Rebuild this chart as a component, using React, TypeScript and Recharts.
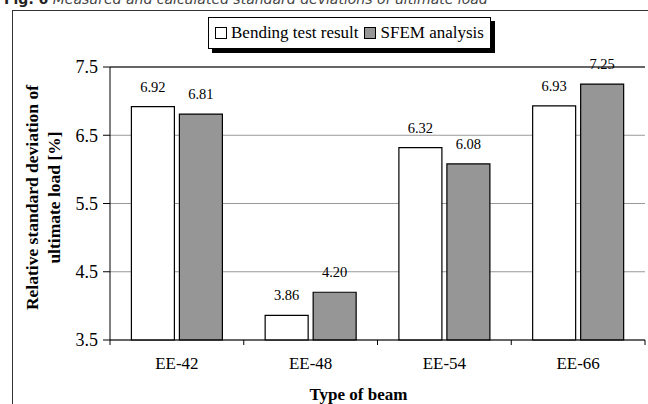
import { BarChart, Bar, XAxis, YAxis, CartesianGrid, ReferenceLine, LabelList, Label } from 'recharts';

const beams = ['EE-42', 'EE-48', 'EE-54', 'EE-66'];
const bendingTest = [6.92, 3.86, 6.32, 6.93];
const sfemAnalysis = [6.81, 4.2, 6.08, 7.25];
const yTicks = [3.5, 4.5, 5.5, 6.5, 7.5];
const seriesNames = ['Bending test result', 'SFEM analysis'];
const seriesColors = ['#ffffff', '#969696'];

const data = beams.map((name, i) => ({ name, bending: bendingTest[i], sfem: sfemAnalysis[i] }));

const serif = '"Liberation Serif", "Times New Roman", serif';
const X_TICK_MARGIN = 17;

const YLabel = (props: any) => {
  const vb = props.viewBox;
  const cy = vb.y + vb.height / 2 - 6;
  return (
    <g style={{ fontFamily: serif, fontWeight: 'bold', fontSize: 17.5 }} fill="#000" textAnchor="middle">
      <text transform={`translate(32, ${cy}) rotate(-90)`} dy="0.35em">Relative standard deviation of</text>
      <text transform={`translate(54, ${cy}) rotate(-90)`} dy="0.35em">ultimate load [%]</text>
    </g>
  );
};

// category label plus tick marks on the group boundaries
const XTick = (props: any) => {
  const { x, y, payload, index } = props;
  const half = payload && typeof payload.offset === 'number' && payload.offset > 0 ? payload.offset : 0;
  const axisY = y - X_TICK_MARGIN;
  return (
    <g>
      {half > 0 && <line x1={x + half} x2={x + half} y1={axisY} y2={axisY + 5} stroke="#000" />}
      {half > 0 && index === 0 && <line x1={x - half} x2={x - half} y1={axisY} y2={axisY + 5} stroke="#000" />}
      <text x={x} y={y} dy="0.71em" textAnchor="middle" style={{ fontFamily: serif, fontSize: 17 }} fill="#000">
        {payload.value}
      </text>
    </g>
  );
};

const YTick = (props: any) => {
  const { x, y, payload } = props;
  return (
    <text x={x} y={y} dy="0.35em" textAnchor="end" style={{ fontFamily: serif, fontSize: 18 }} fill="#000">
      {Number(payload.value).toFixed(1)}
    </text>
  );
};

const ValueLabel = (props: any) => {
  const { x, y, width, value } = props;
  return (
    <text x={x + width / 2} y={y - 15} textAnchor="middle" style={{ fontFamily: serif, fontSize: 14.5 }} fill="#000">
      {Number(value).toFixed(2)}
    </text>
  );
};

export default function App() {
  return (
    <div style={{ position: 'absolute', left: 0, top: 0, width: 648, height: 404, background: '#fff', overflow: 'hidden', fontFamily: serif }}>
      <div style={{ position: 'absolute', left: 4, top: -9, fontFamily: 'DejaVu Sans, sans-serif', fontSize: 14, whiteSpace: 'nowrap', color: '#444' }}>
        <b style={{ color: '#222' }}>Fig. 6</b> <i>Measured and calculated standard deviations of ultimate load</i>
      </div>
      <div style={{ position: 'absolute', left: 12, top: 10, width: 700, height: 420, borderLeft: '1.5px solid #333', borderTop: '1.5px solid #333' }} />
      <div style={{ position: 'absolute', left: 208, top: 17, height: 30, padding: '0 6px', border: '1px solid #000', background: '#fff', boxShadow: '4px 4px 0 #000', display: 'flex', alignItems: 'center', fontFamily: serif, fontSize: 17, whiteSpace: 'nowrap', zIndex: 2 }}>
        {seriesNames.map((n, i) => (
          <span key={n} style={{ display: 'flex', alignItems: 'center', marginRight: i === 0 ? 6 : 0 }}>
            <span style={{ width: 10, height: 10, border: '1px solid #000', background: seriesColors[i], marginRight: 4, display: 'inline-block' }} />
            {n}
          </span>
        ))}
      </div>
      <div style={{ position: 'absolute', left: 0, top: 0 }}>
        <BarChart width={648} height={404} data={data} margin={{ top: 67, right: 3, bottom: 0, left: 0 }} barCategoryGap="16%" barGap={5}>
          <CartesianGrid vertical={false} stroke="#999" strokeWidth={1} />
          <XAxis xAxisId="b" type="number" domain={[0, 4]} hide />
          <XAxis dataKey="name" axisLine={{ stroke: '#000' }} tickLine={false} tickSize={0} tickMargin={X_TICK_MARGIN} tick={<XTick />} height={64}>
            <Label position="insideBottom" offset={4} dx={-19} style={{ fontFamily: serif, fontWeight: 'bold', fontSize: 17, fill: '#000' }} value="Type of beam" />
          </XAxis>
          <YAxis domain={[3.5, 7.5]} ticks={yTicks} interval={0} width={110} axisLine={{ stroke: '#000' }} tickLine={{ stroke: '#000' }} tickSize={7} tickMargin={5} tick={<YTick />}>
            <Label content={YLabel} />
          </YAxis>
          <ReferenceLine y={7.5} stroke="#000" />
          <ReferenceLine xAxisId="b" x={4} stroke="#000" />
          <Bar dataKey="bending" name={seriesNames[0]} fill={seriesColors[0]} stroke="#000" strokeWidth={1.2} isAnimationActive={false}>
            <LabelList dataKey="bending" content={<ValueLabel />} />
          </Bar>
          <Bar dataKey="sfem" name={seriesNames[1]} fill={seriesColors[1]} stroke="#000" strokeWidth={1.2} isAnimationActive={false}>
            <LabelList dataKey="sfem" content={<ValueLabel />} />
          </Bar>
        </BarChart>
      </div>
    </div>
  );
}
